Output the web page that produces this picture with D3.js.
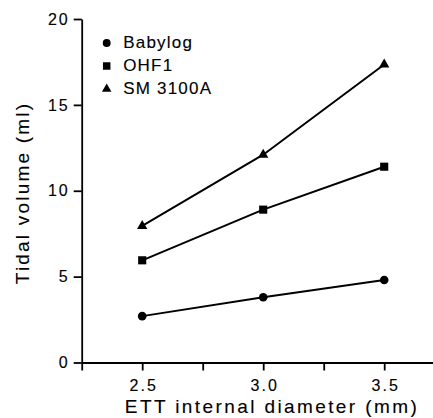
<!DOCTYPE html>
<html>
<head>
<meta charset="utf-8">
<script src="https://cdn.jsdelivr.net/npm/d3@7"></script>
<style>
  body { margin: 0; background: #fff; }
  svg { display: block; font-family: "Liberation Sans", Arial, Helvetica, sans-serif; }
  svg text { fill: #000; stroke: #000; stroke-width: 0.12px; }
  .axis path, .axis line { stroke: #000; stroke-width: 1.8; }
  .axis text { font-size: 16px; letter-spacing: 2px; }
</style>
</head>
<body>
<div id="chart"></div>
<script>
// Data
const diameters = [2.5, 3.0, 3.5];
const babylog = [2.7, 3.8, 4.8];
const ohf1 = [5.95, 8.9, 11.4];
const sm3100a = [7.95, 12.1, 17.35];
const seriesNames = ["Babylog", "OHF1", "SM 3100A"];
const xTicks = [2.25, 2.5, 2.75, 3.0, 3.25, 3.5];
const xTickLabels = [2.5, 3.0, 3.5];
const yTicks = [0, 5, 10, 15, 20];

const width = 433;
const height = 418;

const x = d3.scaleLinear().domain([2.25, 3.75]).range([81.7, 444.7]);
const y = d3.scaleLinear().domain([0, 20]).range([362.5, 19]);

const svg = d3.select("#chart")
  .append("svg")
  .attr("width", width)
  .attr("height", height);

// axes
svg.append("g")
  .attr("class", "axis")
  .attr("transform", `translate(0,${y(0)})`)
  .call(d3.axisBottom(x)
    .tickValues(xTicks)
    .tickSize(8)
    .tickSizeOuter(0)
    .tickPadding(9)
    .tickFormat(d => xTickLabels.includes(d) ? d3.format(".1f")(d) : ""))
  .selectAll("text").attr("dx", "1px");

svg.append("g")
  .attr("class", "axis")
  .attr("transform", `translate(${x(2.25)},0)`)
  .call(d3.axisLeft(y)
    .tickValues(yTicks)
    .tickSize(8)
    .tickSizeOuter(0)
    .tickPadding(4));

// axis titles
svg.append("text")
  .attr("x", 272)
  .attr("y", 413)
  .attr("text-anchor", "middle")
  .style("font-size", "19px")
  .style("letter-spacing", "2.4px")
  .text("ETT internal diameter (mm)");

svg.append("text")
  .attr("transform", "translate(29,193) rotate(-90)")
  .attr("text-anchor", "middle")
  .style("font-size", "19px")
  .style("letter-spacing", "2.2px")
  .text("Tidal volume (ml)");

// series
const series = [
  { name: seriesNames[0], values: babylog, symbol: d3.symbolCircle, size: 58 },
  { name: seriesNames[1], values: ohf1, symbol: d3.symbolSquare, size: 66 },
  { name: seriesNames[2], values: sm3100a, symbol: d3.symbolTriangle, size: 46 }
];

const line = d3.line()
  .x((d, i) => x(diameters[i]))
  .y(d => y(d));

series.forEach(s => {
  svg.append("path")
    .attr("d", line(s.values))
    .attr("fill", "none")
    .attr("stroke", "#000")
    .attr("stroke-width", 2);

  svg.selectAll(null)
    .data(s.values)
    .enter()
    .append("path")
    .attr("d", d3.symbol().type(s.symbol).size(s.size))
    .attr("transform", (d, i) => `translate(${x(diameters[i])},${y(d)})`)
    .attr("fill", "#000");
});

// legend
const legend = svg.append("g").attr("transform", "translate(106.7,43)");
series.forEach((s, i) => {
  const g = legend.append("g").attr("transform", `translate(0,${i * 23})`);
  g.append("path")
    .attr("d", d3.symbol().type(s.symbol).size(s.size * 0.85))
    .attr("fill", "#000");
  g.append("text")
    .attr("x", 16.5)
    .attr("y", 4.5)
    .style("font-size", "17px")
    .style("letter-spacing", "1.2px")
    .text(s.name);
});
</script>
</body>
</html>
